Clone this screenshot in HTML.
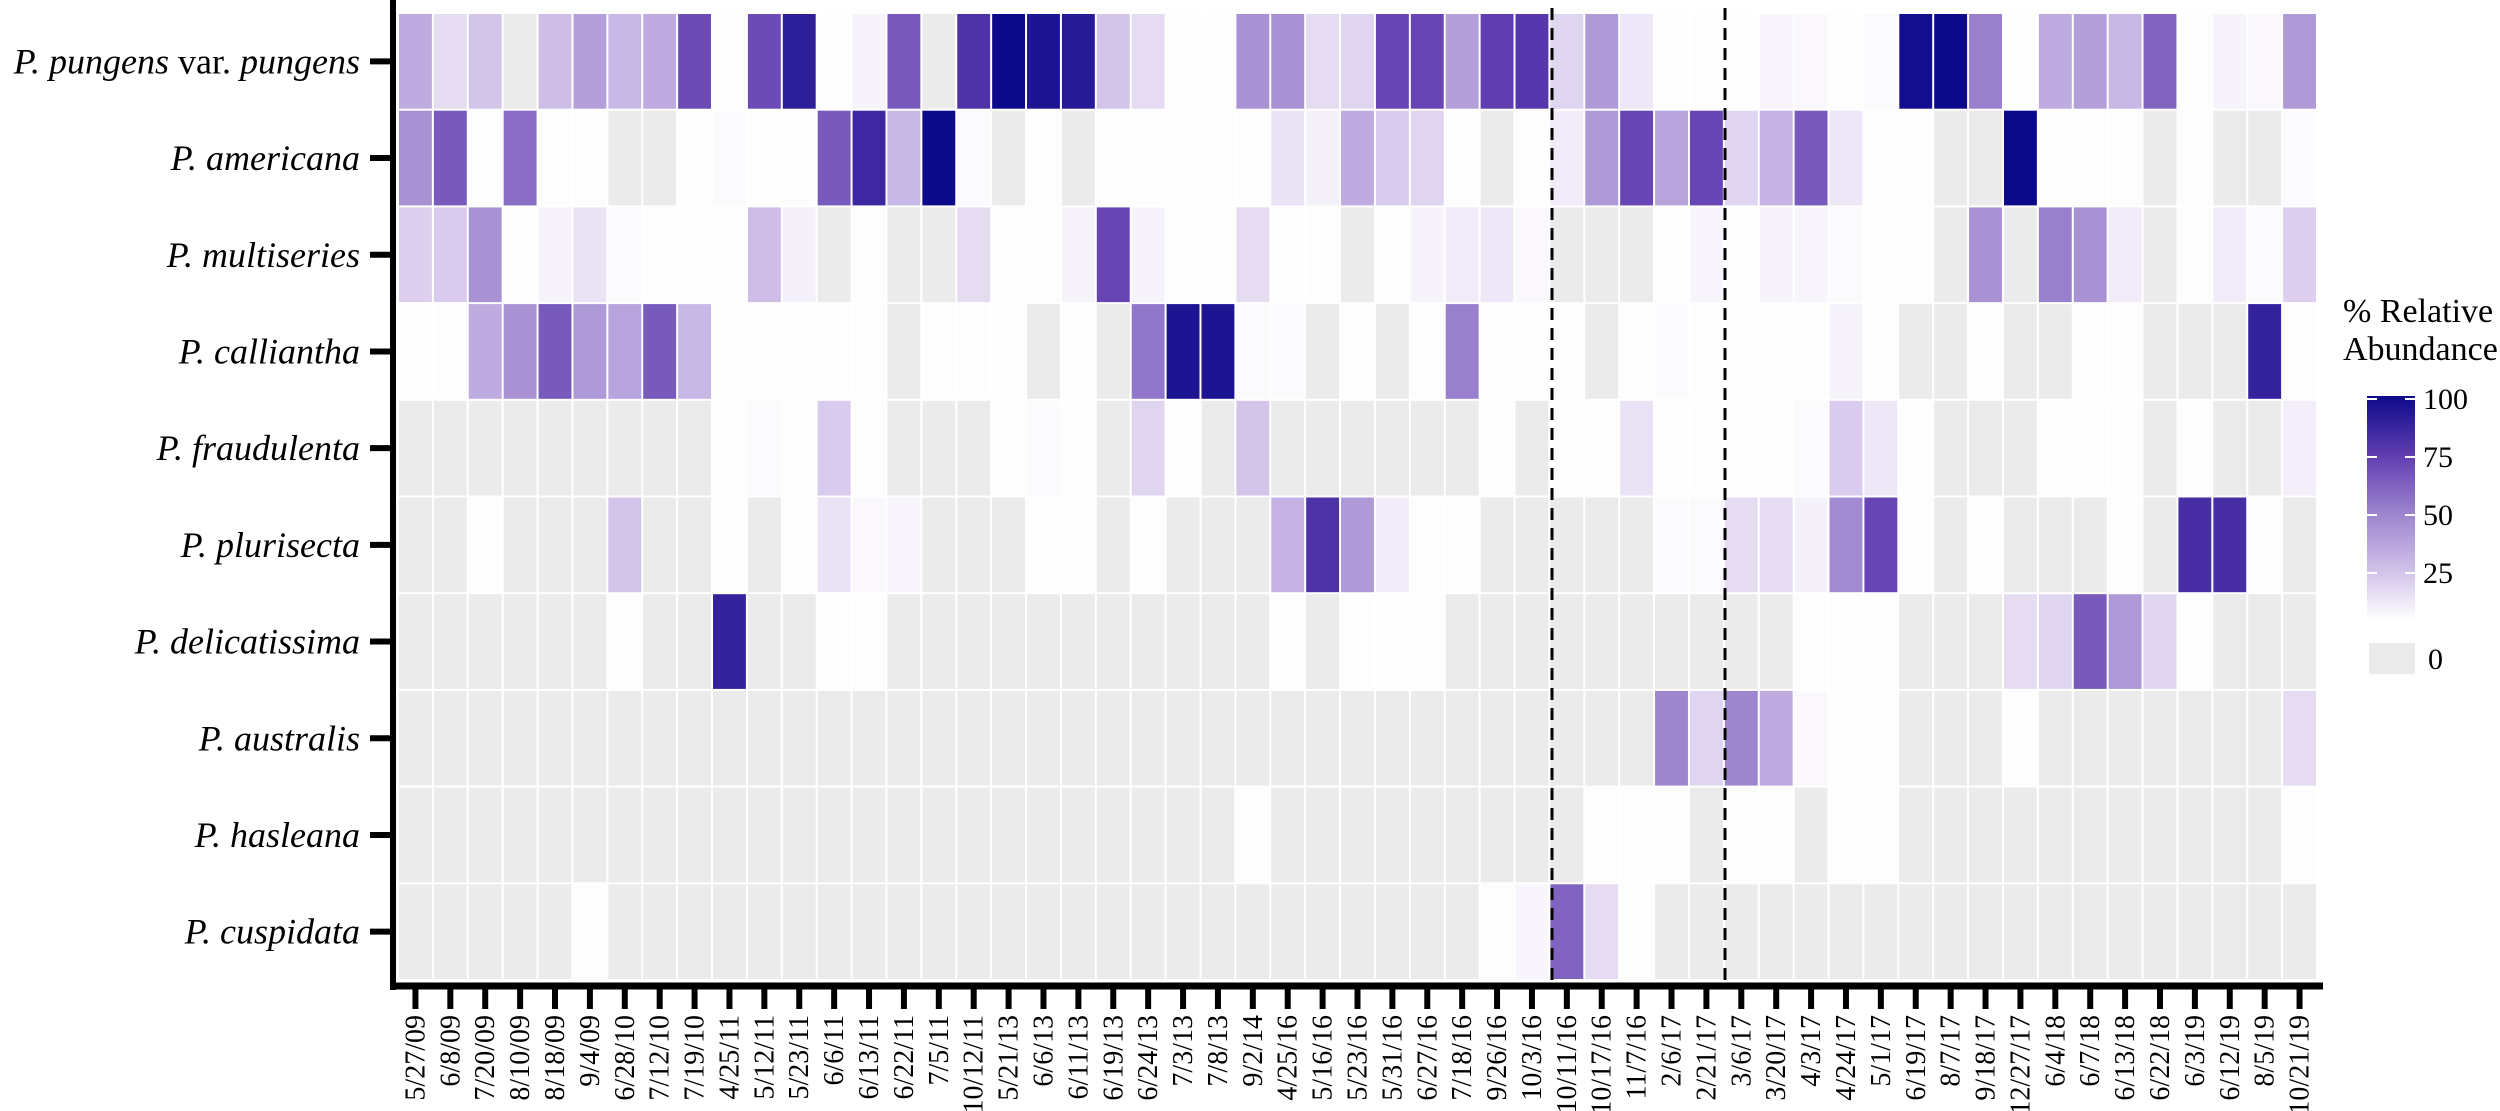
<!DOCTYPE html>
<html><head><meta charset="utf-8"><style>
html,body{margin:0;padding:0;background:#fff;width:2500px;height:1111px;overflow:hidden}
svg{display:block}
text{font-family:"Liberation Serif","DejaVu Serif","Times New Roman",serif}
</style></head><body>
<svg id="chart" width="2500" height="1111" viewBox="0 0 2500 1111" xmlns="http://www.w3.org/2000/svg" font-family="Liberation Serif, DejaVu Serif, Times New Roman, serif">
<g id="cellGroup"></g>
<g id="ylabGroup"></g>
<g id="xlabGroup"></g>
<line x1="1552" y1="8" x2="1552" y2="984" stroke="#000" stroke-width="3" stroke-dasharray="12 8"/>
<line x1="1725" y1="8" x2="1725" y2="984" stroke="#000" stroke-width="3" stroke-dasharray="12 8"/>
<line x1="393" y1="0" x2="393" y2="990" stroke="#000" stroke-width="6"/>
<line x1="390" y1="986" x2="2323" y2="986" stroke="#000" stroke-width="7"/>
<g>
<defs><linearGradient id="grad" x1="0" y1="1" x2="0" y2="0">
<stop offset="0" stop-color="#ffffff"/><stop offset="0.21" stop-color="#d3c4ea"/><stop offset="0.47" stop-color="#9e86cf"/><stop offset="0.74" stop-color="#5f3cb0"/><stop offset="1" stop-color="#0c0a8a"/></linearGradient></defs>
<text x="2343" y="322" font-size="34" font-family="Liberation Serif, DejaVu Serif, Times New Roman, serif">% Relative</text>
<text x="2343" y="360" font-size="34" font-family="Liberation Serif, DejaVu Serif, Times New Roman, serif">Abundance</text>
<rect x="2367" y="396" width="48" height="224" fill="url(#grad)"/>
<g id="legTickGroup"></g>
<rect x="2369" y="643" width="46" height="31" fill="#ebebeb"/>
<text x="2428" y="669" font-size="30" font-family="Liberation Serif, DejaVu Serif, Times New Roman, serif">0</text>
</g>
</svg>
<script>
const species = ["P. pungens var. pungens","P. americana","P. multiseries","P. callianthа","P. fraudulenta","P. plurisecta","P. delicatissima","P. australis","P. hasleana","P. cuspidata"];
const dates = ["5/27/09","6/8/09","7/20/09","8/10/09","8/18/09","9/4/09","6/28/10","7/12/10","7/19/10","4/25/11","5/12/11","5/23/11","6/6/11","6/13/11","6/22/11","7/5/11","10/12/11","5/21/13","6/6/13","6/11/13","6/19/13","6/24/13","7/3/13","7/8/13","9/2/14","4/25/16","5/16/16","5/23/16","5/31/16","6/27/16","7/18/16","9/26/16","10/3/16","10/11/16","10/17/16","11/7/16","2/6/17","2/21/17","3/6/17","3/20/17","4/3/17","4/24/17","5/1/17","6/19/17","8/7/17","9/18/17","12/27/17","6/4/18","6/7/18","6/13/18","6/22/18","6/3/19","6/12/19","8/5/19","10/21/19"];
// 0 = not detected (grey); >0 = % relative abundance
const rowPungens = [35,15,25,0,28,40,30,35,70,1,70,90,1,5,65,0,80,100,95,92,25,15,1,1,45,45,15,18,72,72,40,75,78,18,42,10,1,1,1,4,3,1,2,98,100,52,1,35,40,30,62,1,5,3,42];
const rowAmericana = [45,65,1,58,1,1,0,0,1,2,1,1,65,85,30,100,2,0,1,0,1,1,1,1,1,12,6,35,22,18,1,0,1,8,42,72,38,72,18,32,65,10,1,1,0,0,100,1,1,1,0,1,0,0,2];
const rowMultiseries = [20,22,45,1,5,12,2,1,1,1,28,6,0,1,0,0,15,1,1,5,72,5,1,1,15,1,1,0,1,5,8,10,3,0,0,0,1,4,1,5,4,2,1,1,0,45,0,52,45,8,0,1,8,2,20];
const rowCallianth = [1,1,35,45,65,42,38,65,30,1,1,1,1,1,0,1,1,1,0,1,0,55,95,95,2,2,0,1,0,1,52,1,1,1,0,1,2,1,1,1,1,5,1,0,0,1,0,0,1,1,0,0,0,88,1];
const rowFraudulenta = [0,0,0,0,0,0,0,0,0,1,2,1,22,1,0,0,0,1,2,1,0,18,1,0,25,0,0,0,0,0,0,1,0,1,1,12,1,1,1,1,2,22,10,1,0,0,0,1,1,1,0,1,0,0,7];
const rowPlurisecta = [0,0,1,0,0,0,25,0,0,1,0,1,12,3,4,0,0,0,1,1,0,1,0,0,0,32,80,42,8,1,1,0,0,0,0,0,2,2,15,15,6,48,72,1,0,1,0,0,0,1,0,82,82,1,0];
const rowDelicatissima = [0,0,0,0,0,0,1,0,0,88,0,0,1,1,0,0,0,0,0,0,0,0,0,0,0,1,0,1,1,1,0,0,0,0,0,0,0,0,0,0,1,1,1,0,0,0,15,18,65,42,18,1,0,0,0];
const rowAustralis = [0,0,0,0,0,0,0,0,0,0,0,0,0,0,0,0,0,0,0,0,0,0,0,0,0,0,0,0,0,0,0,0,0,0,0,0,50,18,50,35,3,1,1,0,0,0,1,0,0,0,0,0,0,0,15];
const rowHasleana = [0,0,0,0,0,0,0,0,0,0,0,0,0,0,0,0,0,0,0,0,0,0,0,0,1,0,0,0,0,0,0,0,0,0,1,1,1,0,1,1,0,1,1,0,0,0,0,0,0,0,0,0,0,0,1];
const rowCuspidata = [0,0,0,0,0,1,0,0,0,0,0,0,0,0,0,0,0,0,0,0,0,0,0,0,0,0,0,0,0,0,0,1,4,62,15,1,0,0,0,0,0,0,0,0,0,0,0,0,0,0,0,0,0,0,0];
const legendTicks = [100,75,50,25];

const heatRows = [rowPungens,rowAmericana,rowMultiseries,rowCallianth,rowFraudulenta,rowPlurisecta,rowDelicatissima,rowAustralis,rowHasleana,rowCuspidata];
const NS = "http://www.w3.org/2000/svg";
const FONT = "Liberation Serif, DejaVu Serif, Times New Roman, serif";
const plotL = 398, plotR = 2317, plotT = 13, plotB = 980;
const colW = (plotR-plotL)/dates.length, rowH = (plotB-plotT)/species.length;
const xPos = i => plotL + i*colW;
const yPos = j => plotT + j*rowH;
const cStops = [[0,[255,255,255]],[25,[211,196,234]],[50,[158,134,207]],[75,[95,60,176]],[100,[12,10,138]]];
function colorFor(v){
  if(v<=0) return "#ebebeb";
  for(let k=1;k<cStops.length;k++){
    if(v<=cStops[k][0]){
      const a=cStops[k-1],b=cStops[k],t=(v-a[0])/(b[0]-a[0]);
      const c=a[1].map((x,i)=>Math.round(x+(b[1][i]-x)*t));
      return "rgb("+c.join(",")+")";
    }
  }
  return "rgb(12,10,138)";
}
const cellG = document.getElementById("cellGroup");
heatRows.forEach((row,j)=>{
  row.forEach((v,i)=>{
    const r=document.createElementNS(NS,"rect");
    r.setAttribute("x",xPos(i)+1);
    r.setAttribute("y",yPos(j)+1);
    r.setAttribute("width",colW-2);
    r.setAttribute("height",rowH-2);
    r.setAttribute("fill",colorFor(v));
    
    
    cellG.appendChild(r);
  });
});
const ylG = document.getElementById("ylabGroup");
species.forEach((s,j)=>{
  const cy = yPos(j)+rowH/2;
  const t=document.createElementNS(NS,"text");
  t.setAttribute("x",360); t.setAttribute("y",cy+12);
  t.setAttribute("text-anchor","end"); t.setAttribute("font-size","36");
  t.setAttribute("font-family",FONT);
  
  
  if(j===0){
    const a=document.createElementNS(NS,"tspan"); a.setAttribute("font-style","italic"); a.textContent="P. pungens";
    const b=document.createElementNS(NS,"tspan"); b.textContent=" var. ";
    const c=document.createElementNS(NS,"tspan"); c.setAttribute("font-style","italic"); c.textContent="pungens";
    t.appendChild(a); t.appendChild(b); t.appendChild(c);
  } else { t.setAttribute("font-style","italic"); t.textContent=s; }
  ylG.appendChild(t);
  const tk=document.createElementNS(NS,"line");
  tk.setAttribute("x1",370); tk.setAttribute("x2",393); tk.setAttribute("y1",cy); tk.setAttribute("y2",cy);
  tk.setAttribute("stroke","#000"); tk.setAttribute("stroke-width","6");
  
  
  ylG.appendChild(tk);
});
const xlG = document.getElementById("xlabGroup");
dates.forEach((d,i)=>{
  const cx = xPos(i)+colW/2;
  const tk=document.createElementNS(NS,"line");
  tk.setAttribute("x1",cx); tk.setAttribute("x2",cx); tk.setAttribute("y1",986); tk.setAttribute("y2",1009);
  tk.setAttribute("stroke","#000"); tk.setAttribute("stroke-width","6");
  
  
  xlG.appendChild(tk);
  const t=document.createElementNS(NS,"text");
  t.setAttribute("transform","translate("+(cx+9)+",1015) rotate(-90)");
  t.setAttribute("text-anchor","end"); t.setAttribute("font-size","28");
  t.setAttribute("font-family",FONT);
  t.textContent=d;
  
  
  xlG.appendChild(t);
});
const ltG = document.getElementById("legTickGroup");
const legY = v => 631 - v*2.32;
legendTicks.forEach(v=>{
  const y=legY(v);
  [[2367,2377],[2405,2415]].forEach(p=>{
    const l=document.createElementNS(NS,"line");
    l.setAttribute("x1",p[0]); l.setAttribute("x2",p[1]); l.setAttribute("y1",y); l.setAttribute("y2",y);
    l.setAttribute("stroke","#fff"); l.setAttribute("stroke-width","2");
    
    
    ltG.appendChild(l);
  });
  const t=document.createElementNS(NS,"text");
  t.setAttribute("x",2423); t.setAttribute("y",y+10); t.setAttribute("font-size","30");
  t.setAttribute("font-family",FONT);
  t.textContent=v;
  
  
  ltG.appendChild(t);
});
</script>
</body></html>
